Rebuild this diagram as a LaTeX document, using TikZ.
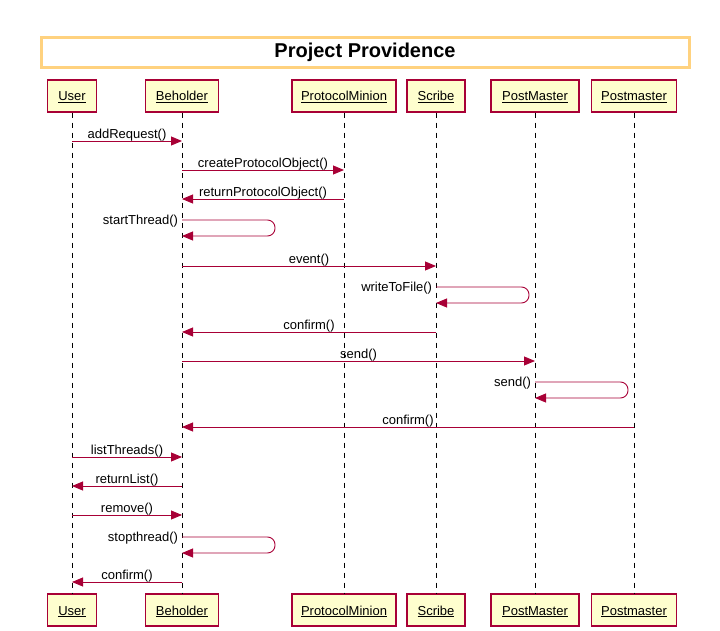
\documentclass[tikz,border=0pt]{standalone}
\usepackage{fontspec}
\setmainfont{Liberation Sans}
\usetikzlibrary{arrows.meta}
\definecolor{umlred}{HTML}{A80036}
\definecolor{umlfill}{HTML}{FEFECE}
\definecolor{titleorange}{HTML}{FFD27F}

\begin{document}
\begin{tikzpicture}[x=1pt,y=-1pt,
    part/.style={draw=umlred,fill=umlfill,line width=1.2pt,minimum height=32pt,inner sep=0pt,text height=10pt,text depth=0pt,font=\fontsize{13}{15}\selectfont},
    life/.style={dash pattern=on 5pt off 5pt,line width=0.8pt},
    msg/.style={umlred,line width=0.9pt,-{Triangle[length=11pt,width=9pt]}},
    lbl/.style={font=\fontsize{13}{15}\selectfont,text=black,inner sep=0.5pt}]
    \useasboundingbox (0,0) rectangle (720,631);

    \node[draw=titleorange,line width=3pt,fill=white,minimum width=648pt,minimum height=30pt,font=\bfseries\fontsize{20}{24}\selectfont] (title) at (365,52.5) {Project Providence};

    \foreach \n/\x/\w/\t in {u/72/49/User, b/182/73/Beholder, p/344/104/ProtocolMinion, s/436/58/Scribe, m/535/88/PostMaster, n/634/85/Postmaster} {
        \node[part,minimum width=\w pt] (\n1) at (\x,96) {\underline{\t}};
        \node[part,minimum width=\w pt] (\n2) at (\x,610) {\underline{\t}};
        \draw[life] (\n1) -- (\n2);
    }

    \foreach \a/\b/\y/\t in {u/b/141/addRequest(), b/p/170/createProtocolObject(), p/b/199/returnProtocolObject(), b/s/266/event(), s/b/332/confirm(), b/m/361/send(), n/b/427/confirm(), u/b/457/listThreads(), b/u/486/returnList(), u/b/515/remove(), b/u/582/confirm()}
        \draw[msg] (\a1 |- 0,\y) -- node[lbl,above,yshift=-1pt] {\t} (\b1 |- 0,\y);

    \foreach \a/\y/\t in {b/220/startThread(), s/287/writeToFile(), m/382/send(), b/537/stopthread()}
        \draw[msg,rounded corners=7.5pt] (\a1 |- 0,\y) node[lbl,left,xshift=-3pt,yshift=-1.5pt] {\t} -- ++(93,0) -- ++(0,16) -- (\a1 |- 0,\y+16);
\end{tikzpicture}
\end{document}
